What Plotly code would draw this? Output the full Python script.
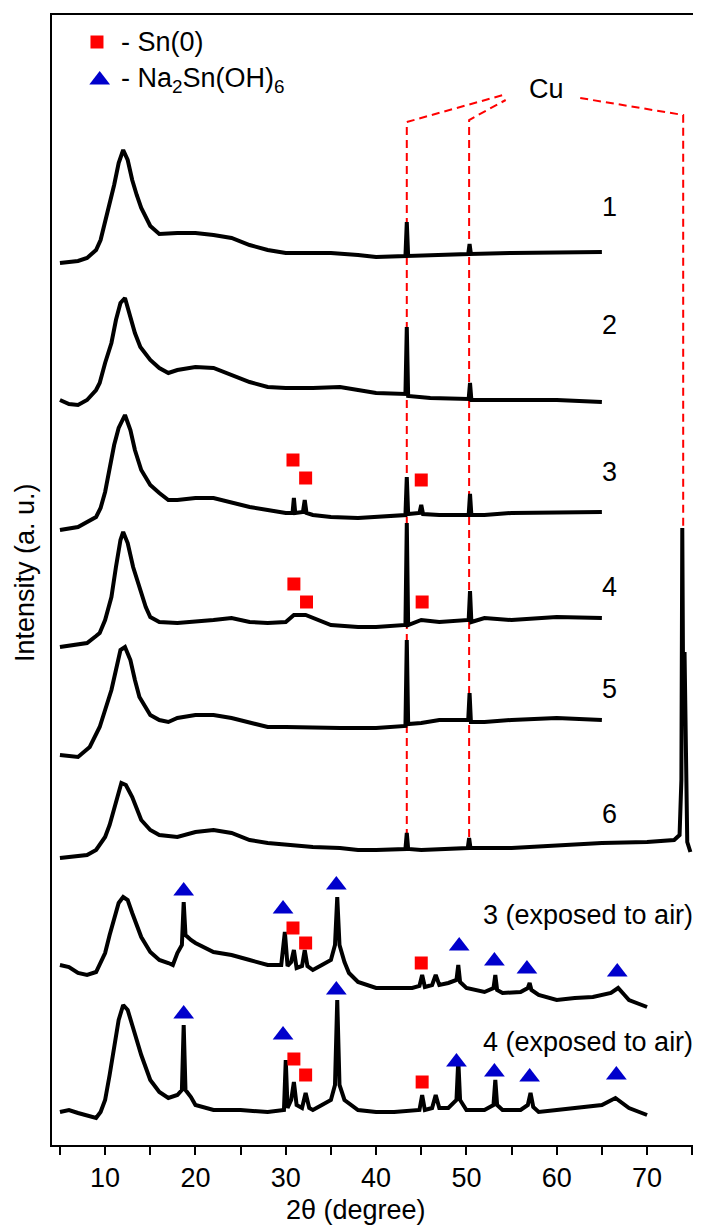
import plotly.graph_objects as go

# ---------------- data (2theta in degrees, intensity in stacked arbitrary units) -------------
x1 = [5, 6, 7, 8, 9, 9.5, 10, 10.5, 11, 11.5, 12, 12.5, 13, 13.5, 14, 15, 16, 18, 20, 22,
      24, 26, 28, 30, 35, 38, 40, 43.25, 43.4, 43.55, 46, 50.2, 50.35, 50.5, 55, 60, 65]
y1 = [882, 883, 884, 887, 895, 905, 923, 940, 960, 982, 995, 985, 965, 950, 937, 919, 911, 912, 912, 910,
      907, 900, 895, 892, 892, 890, 888, 889, 923, 889, 890, 891, 901, 891, 892, 893, 893]

x2 = [5, 6, 7, 8, 9, 9.4, 10, 10.7, 11.2, 11.7, 12.2, 12.8, 13.3, 13.9, 15, 16, 17, 18, 20, 22,
      24, 26, 28, 30, 33, 36, 38, 40, 43.25, 43.4, 43.55, 46, 50.25, 50.4, 50.55, 55, 60, 65]
y2 = [745, 741, 740, 745, 755, 762, 782, 802, 825, 842, 847, 828, 812, 798, 785, 777, 772, 775, 778, 777,
      770, 763, 758, 757, 757, 758, 755, 752, 751, 818, 749, 747, 746, 762, 745, 745, 745, 743]

x3 = [5, 7, 9, 9.5, 10, 10.5, 11, 11.5, 12.2, 12.8, 13.3, 14, 15, 16, 17, 18, 20, 22, 24, 26,
      28, 30, 30.75, 30.9, 31.05, 31.9, 32.1, 32.3, 33, 35, 38, 40, 43.25, 43.4, 43.55, 44.8, 45.0, 45.2, 47, 50.25,
      50.4, 50.55, 52, 55, 60, 65]
y3 = [615, 618, 628, 637, 653, 675, 700, 717, 730, 715, 695, 675, 660, 652, 645, 645, 647, 647, 642, 638,
      635, 632, 632, 647, 632, 633, 645, 632, 630, 628, 627, 628, 630, 668, 631, 632, 640, 631, 630, 630,
      651, 630, 630, 632, 633, 633]

x4 = [5, 7, 8, 9, 9.4, 10, 10.7, 11.2, 11.7, 12, 12.5, 13.1, 13.8, 14.5, 15, 16, 18, 20, 22, 24,
      26, 28, 30, 30.9, 32.2, 35, 38, 40, 43.25, 43.4, 43.55, 45, 47, 50.25, 50.4, 50.55, 52, 55, 60, 65]
y4 = [498, 500, 502, 509, 512, 525, 548, 578, 605, 613, 602, 578, 558, 538, 528, 523, 522, 523, 525, 527,
      523, 522, 523, 530, 530, 520, 518, 518, 520, 622, 520, 525, 523, 525, 554, 523, 527, 525, 528, 527]

x5 = [5, 7, 8.3, 9.4, 10, 10.7, 11.2, 11.7, 12.2, 12.8, 13.3, 13.8, 15, 16, 17, 18, 20, 22, 24, 26,
      28, 30, 33, 36, 38, 40, 43.25, 43.4, 43.55, 45, 47, 50.2, 50.35, 50.5, 52, 55, 60, 65]
y5 = [390, 388, 398, 418, 435, 455, 475, 495, 498, 485, 465, 448, 430, 425, 423, 427, 430, 430, 427, 422,
      418, 418, 417, 417, 417, 417, 419, 505, 421, 422, 425, 425, 452, 423, 423, 425, 427, 425]

x6 = [5, 8, 9, 10, 10.5, 11, 11.5, 11.8, 12.3, 13, 14, 15, 16, 18, 20, 22, 24, 26, 28, 30,
      33, 36, 38, 40, 43.25, 43.4, 43.55, 45, 50.15, 50.3, 50.45, 55, 60, 65, 70, 73, 73.6, 73.8, 73.9, 74.0,
      74.15, 74.3, 74.45, 74.8]
y6 = [287, 290, 295, 308, 320, 337, 355, 362, 360, 348, 325, 315, 310, 308, 313, 315, 312, 305, 302, 300,
      298, 297, 295, 295, 296, 312, 296, 295, 297, 307, 297, 297, 300, 302, 303, 305, 310, 365, 617, 445,
      493, 345, 303, 293]

x7 = [5, 6, 7, 8, 9, 10, 10.5, 11, 11.5, 12, 12.5, 13, 14, 15, 16, 17, 17.5, 18, 18.5, 18.7,
      18.9, 19.5, 20, 22, 24, 26, 28, 29.5, 29.9, 30.2, 30.6, 30.9, 31.2, 31.8, 32.1, 32.4, 33, 34, 35, 35.45,
      35.7, 35.95, 36.5, 37, 38, 40, 42, 44, 44.8, 45.1, 45.4, 46.2, 46.6, 47, 48, 48.9, 49.1, 49.3, 50, 52,
      53.0, 53.2, 53.4, 54, 56, 56.8, 57.0, 57.2, 58, 60, 62, 64, 66, 66.8, 67.5, 68, 70]
y7 = [180, 178, 172, 170, 173, 192, 210, 228, 242, 248, 245, 232, 208, 193, 185, 182, 180, 192, 200, 243,
      210, 205, 202, 193, 190, 185, 180, 180, 213, 179, 183, 195, 177, 179, 195, 179, 175, 180, 185, 200,
      248, 200, 183, 172, 163, 157, 157, 157, 159, 170, 158, 160, 170, 160, 162, 165, 180, 163, 157, 153,
      157, 170, 155, 152, 153, 157, 162, 155, 150, 145, 147, 148, 152, 157, 150, 145, 138]

x8 = [5, 6, 7, 8, 9, 9.5, 10, 10.5, 11, 11.5, 12, 12.5, 13, 14, 15, 16, 17, 18, 18.5, 18.7,
      18.9, 19.5, 20, 22, 25, 28, 29.8, 30.0, 30.2, 30.6, 30.9, 31.2, 31.8, 32.2, 32.6, 33, 34, 35, 35.45, 35.7,
      35.95, 36.5, 38, 40, 42, 44.8, 45.1, 45.4, 46.2, 46.6, 47, 48, 48.9, 49.1, 49.3, 50, 52, 53.0, 53.2, 53.4,
      54, 56, 56.8, 57.1, 57.4, 58, 60, 62, 65, 66.5, 68, 70]
y8 = [33, 35, 32, 30, 27, 33, 45, 70, 100, 125, 140, 135, 120, 90, 65, 53, 47, 50, 55, 120,
      55, 48, 40, 35, 35, 33, 35, 85, 37, 45, 63, 40, 37, 52, 37, 35, 40, 45, 60, 145,
      60, 45, 35, 33, 33, 35, 50, 35, 37, 50, 37, 37, 45, 85, 45, 35, 35, 40, 65, 40,
      35, 35, 40, 52, 38, 33, 35, 37, 40, 47, 37, 30]

pattern_x = [x1, x2, x3, x4, x5, x6, x7, x8]
pattern_y = [y1, y2, y3, y4, y5, y6, y7, y8]

# phase markers
sn_x = [30.8, 32.2, 45.0, 30.9, 32.3, 45.1, 30.8, 32.2, 45.0, 30.9, 32.2, 45.1]
sn_y = [685, 667, 665, 561, 543, 543, 217, 202, 182, 86, 70, 63]
na_x = [18.7, 29.7, 35.6, 49.2, 53.1, 56.7, 66.7, 18.7, 29.7, 35.6, 48.9, 53.1, 57.0, 66.6]
na_y = [254, 236, 260, 199, 184, 176, 173, 131, 110, 155, 83, 73, 68, 70]

# Cu reference lines
cu_lines = [
    ([43.4, 43.4, 54.45], [295, 1023, 1051]),
    ([50.3, 50.3, 54.35], [295, 1025, 1045]),
    ([62.6, 74.0, 74.0], [1047, 1030, 615]),
]

labels = ["1", "2", "3", "4", "5", "6", "3 (exposed to air)", "4 (exposed to air)"]
label_y = [938, 820, 673, 558, 456, 331, 230, 103]

major_ticks = [10, 20, 30, 40, 50, 60, 70]
minor_ticks = [5, 15, 25, 35, 45, 55, 65, 75]

FONT = "Arial, Liberation Sans, sans-serif"
FS = 27

fig = go.Figure()

for xs, ys in cu_lines:
    fig.add_trace(go.Scatter(x=xs, y=ys, mode="lines",
                             line=dict(color="#FF0000", width=2, dash="8px,5px"),
                             showlegend=False, hoverinfo="skip"))

for xs, ys in zip(pattern_x, pattern_y):
    fig.add_trace(go.Scatter(x=xs, y=ys, mode="lines",
                             line=dict(color="black", width=4),
                             showlegend=False))

fig.add_trace(go.Scatter(x=sn_x, y=sn_y, mode="markers",
                         marker=dict(symbol="square", size=13, color="#FF0000"),
                         showlegend=False))
fig.add_trace(go.Scatter(x=na_x, y=na_y, mode="markers",
                         marker=dict(symbol="triangle-up", size=18, color="#0000CC"),
                         showlegend=False))

# legend (drawn as in the original)
fig.add_trace(go.Scatter(x=[9.1], y=[1103], mode="markers",
                         marker=dict(symbol="square", size=13, color="#FF0000"),
                         showlegend=False))
fig.add_trace(go.Scatter(x=[9.4], y=[1065], mode="markers",
                         marker=dict(symbol="triangle-up", size=18, color="#0000CC"),
                         showlegend=False))
fig.add_annotation(x=11.5, y=1103, text="- Sn(0)", showarrow=False, xanchor="left",
                   font=dict(size=FS, family=FONT, color="black"))
fig.add_annotation(x=11.5, y=1065, text="- Na<sub>2</sub>Sn(OH)<sub>6</sub>", showarrow=False,
                   xanchor="left", font=dict(size=FS, family=FONT, color="black"))
fig.add_annotation(x=58.9, y=1056, text="Cu", showarrow=False,
                   font=dict(size=FS, family=FONT, color="black"))

for i, (t, ly) in enumerate(zip(labels, label_y)):
    if i < 6:
        fig.add_annotation(x=64.8, y=ly, text=t, showarrow=False, xanchor="left",
                           font=dict(size=FS, family=FONT, color="black"))
    else:
        fig.add_annotation(x=75.3, y=ly, text=t, showarrow=False, xanchor="right",
                           font=dict(size=FS, family=FONT, color="black"))

# axis titles
fig.add_annotation(xref="paper", yref="paper", x=-0.042, y=0.507, text="Intensity (a. u.)",
                   textangle=-90, showarrow=False, xanchor="center", yanchor="middle",
                   font=dict(size=FS, family=FONT, color="black"))
fig.add_annotation(xref="paper", yref="paper", x=0.471, y=0, yshift=-65, text="2θ (degree)",
                   showarrow=False, xanchor="center", yanchor="middle",
                   font=dict(size=FS, family=FONT, color="black"))

# page body adds an 8px margin, so the figure is sized to land the frame where the original has it
fig.update_layout(
    width=693, height=1217,
    margin=dict(l=44, r=1, t=7, b=80),
    paper_bgcolor="white", plot_bgcolor="white",
    font=dict(family=FONT, color="black"),
    xaxis=dict(range=[4.12, 75.64], tickvals=major_ticks,
               ticks="outside", ticklen=8, tickwidth=2, tickcolor="black",
               minor=dict(tickvals=minor_ticks, ticks="outside", ticklen=8, tickwidth=2,
                          tickcolor="black", showgrid=False),
               showline=True, linewidth=2, linecolor="black", mirror=True,
               showgrid=False, zeroline=False, ticklabelstandoff=0,
               tickfont=dict(size=FS, family=FONT)),
    yaxis=dict(range=[0, 1130], showticklabels=False, ticks="",
               showline=True, linewidth=2, linecolor="black", mirror=True,
               showgrid=False, zeroline=False),
)

fig.write_html("out.html")
